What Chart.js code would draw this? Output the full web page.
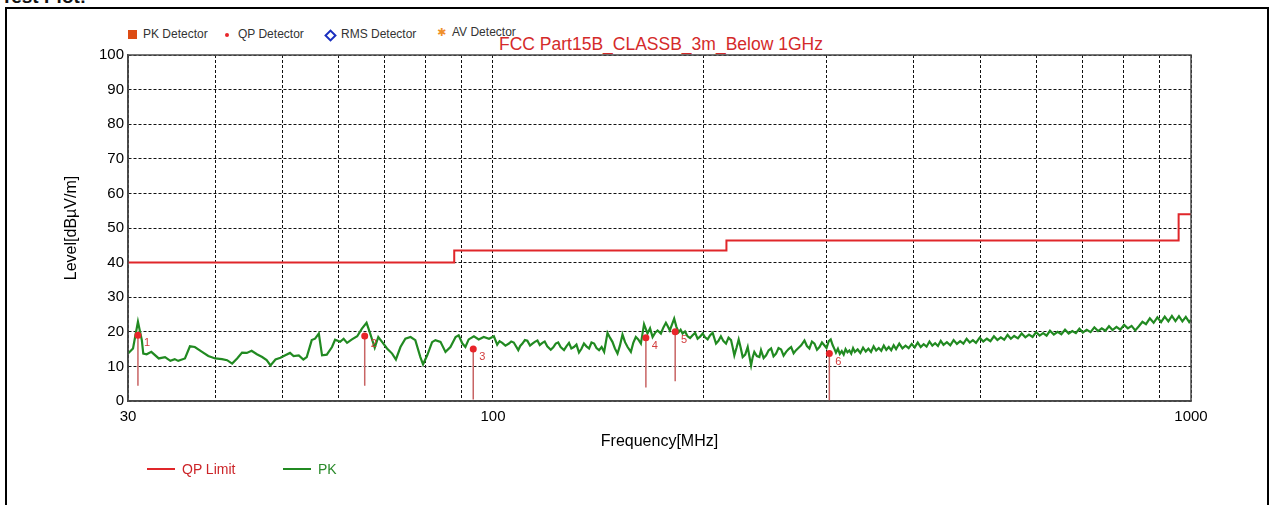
<!DOCTYPE html>
<html>
<head>
<meta charset="utf-8">
<title>FCC Part15B Test Plot</title>
<script src="https://cdn.jsdelivr.net/npm/chart.js@4.4.1/dist/chart.umd.min.js"></script>
<style>
  html, body { margin: 0; padding: 0; background: #fff; }
  body { width: 1271px; height: 505px; position: relative; overflow: hidden; font-family: "Liberation Sans", Arial, sans-serif; }
  #frame { position: absolute; left: 5px; top: 7px; width: 1260px; height: 540px; border: 2px solid #000; }
  #heading { position: absolute; left: 1px; top: -14px; font-size: 19px; font-weight: bold; color: #111; }
  #chartBox { position: absolute; left: 0; top: 0; width: 1271px; height: 505px; }
  .lg { position: absolute; font-size: 12px; line-height: 14px; color: #333; white-space: nowrap; }
  .sym { position: absolute; }
  #plotTitle { position: absolute; left: 499px; top: 35px; font-size: 17.5px; line-height: 19px; color: #d42a2a; white-space: nowrap; }
  .bl { position: absolute; font-size: 14px; line-height: 16px; white-space: nowrap; }
  .bline { position: absolute; height: 2px; width: 28px; }
</style>
</head>
<body>
<div id="heading">Test Plot:</div>
<div id="frame"></div>

<!-- detector legend (top) -->
<div class="sym" style="left:128px; top:30px; width:9px; height:9px; background:#dd4c14;"></div>
<div class="lg" style="left:143px; top:27px;">PK Detector</div>
<div class="sym" style="left:225px; top:33px; width:4px; height:4px; border-radius:50%; background:#e8252a;"></div>
<div class="lg" style="left:238px; top:27px;">QP Detector</div>
<div class="sym" style="left:326px; top:31px; width:5px; height:5px; border:2px solid #1a2fbf; transform:rotate(45deg);"></div>
<div class="lg" style="left:341px; top:27px;">RMS Detector</div>
<div class="sym" style="left:437px; top:26px; font-size:11px; line-height:14px; color:#f0902a; font-family:'DejaVu Sans';">&#10033;</div>
<div class="lg" style="left:452px; top:25px;">AV Detector</div>

<div id="plotTitle">FCC Part15B_CLASSB_3m_Below 1GHz</div>

<div id="chartBox"><canvas id="emiChart" width="1271" height="505"></canvas></div>

<!-- trace legend (bottom) -->
<div class="bline" style="left:147px; top:468px; background:#e0262a;"></div>
<div class="bl" style="left:182px; top:461px; color:#cc2428;">QP Limit</div>
<div class="bline" style="left:283px; top:468px; background:#218a21;"></div>
<div class="bl" style="left:318px; top:461px; color:#2b8a2b;">PK</div>

<script>
// axis ticks
const gridFreqs = [30, 40, 50, 60, 70, 80, 90, 100, 200, 300, 400, 500, 600, 700, 800, 900, 1000];
const xTickLabels = [30, 100, 1000];
const yTicks = [0, 10, 20, 30, 40, 50, 60, 70, 80, 90, 100];

// QP limit (stepped)
const limitFreq = [30, 88, 88, 216, 216, 960, 960, 1000];
const limitLevel = [40, 40, 43.5, 43.5, 46.4, 46.4, 54, 54];

// PK trace: 30 - 100 MHz
const pkFreqLow = [
  30.0, 30.5, 31.0, 31.4, 31.55, 31.9, 32.4, 33.2, 33.9, 34.5, 35.0, 35.4, 36.2, 36.8, 37.4, 38.3, 39.1, 40.0,
  40.9, 41.6, 42.3, 43.0, 43.7, 44.4, 45.1, 45.9, 46.7, 47.4, 48.0, 48.8, 49.6, 50.4, 51.2, 51.8, 52.7, 53.5,
  54.1, 55.0, 55.6, 56.3, 56.9, 57.8, 58.8, 59.4, 60.4, 61.1, 61.8, 62.8, 63.9, 64.9, 65.9, 66.7, 67.7, 68.5,
  69.4, 70.5, 71.7, 72.6, 73.7, 74.9, 76.2, 77.4, 78.7, 79.4, 80.5, 81.8, 82.7, 84.1, 85.5, 86.9, 88.4, 89.3,
  90.4, 91.3, 92.3, 93.9, 95.4, 97.0, 98.7
];
const pkLevelLow = [
  13.7, 15.2, 22.9, 17.6, 13.7, 13.5, 14.2, 12.3, 12.7, 11.6, 12.1, 11.6, 12.3, 15.8, 15.6, 14.2, 13.0, 12.3,
  12.1, 11.8, 10.8, 12.3, 14.0, 13.9, 14.5, 13.5, 12.7, 11.8, 10.3, 12.0, 12.5, 13.2, 13.9, 13.0, 13.2, 12.0,
  12.7, 17.6, 18.0, 19.5, 13.2, 13.4, 15.6, 17.7, 17.1, 18.0, 16.8, 17.8, 18.7, 20.9, 22.6, 19.5, 15.4, 18.5,
  17.0, 15.2, 13.7, 12.0, 15.6, 18.0, 18.5, 17.6, 12.7, 10.6, 13.2, 17.0, 17.6, 17.1, 14.2, 15.6, 18.5, 19.0,
  16.6, 15.6, 17.8, 18.7, 17.8, 18.5, 18.0
];

// 100 - 310 MHz
const pkFreqMid = [
  100.3, 101.4, 102.2, 103.1, 104.2, 105.4, 106.2, 107.1, 108.7, 109.4,
  110.2, 111.1, 112.0, 113.0, 113.9, 114.8, 115.8, 116.7, 117.7, 118.6,
  119.6, 121.0, 122.0, 123.0, 124.0, 125.0, 126.4, 127.4, 128.5, 129.5,
  130.6, 131.7, 132.8, 133.9, 135.0, 136.1, 137.3, 138.4, 139.6, 140.7,
  141.9, 143.1, 144.3, 145.9, 147.1, 148.3, 149.5, 150.8, 152.0, 153.3,
  154.6, 155.9, 157.6, 158.9, 160.2, 161.5, 162.9, 164.6, 166.5, 167.9,
  169.3, 170.7, 172.1, 174.0, 175.4, 176.9, 178.0, 179.2, 181.8, 183.1,
  184.5, 185.7, 186.9, 188.4, 190.0, 191.6, 193.2, 194.8, 196.4, 198.0,
  199.7, 201.3, 203.0, 204.7, 206.4, 207.5, 208.7, 210.4, 212.1, 213.9,
  215.7, 217.5, 219.3, 220.5, 221.7, 223.3, 224.9, 226.4, 227.9, 229.8,
  231.7, 233.0, 234.3, 235.5, 236.8, 238.8, 240.8, 242.1, 244.2, 246.2,
  248.2, 250.3, 252.3, 254.4, 256.5, 258.7, 260.8, 263.0, 265.2, 267.4,
  269.6, 271.8, 274.1, 276.4, 279.4, 281.7, 284.0, 286.4, 288.8, 291.2,
  293.6, 296.0, 298.3, 300.5, 302.7, 304.7, 306.7, 308.5
];
const pkLevelMid = [
  18.7, 16.3, 17.3, 16.8, 16.0, 16.6, 17.2, 16.9, 14.7, 15.9,
  16.6, 17.6, 17.4, 16.0, 16.6, 17.1, 17.5, 16.2, 16.8, 17.2,
  15.8, 14.8, 15.5, 16.6, 16.9, 15.6, 14.7, 15.8, 16.8, 15.2,
  15.6, 16.3, 14.0, 15.1, 16.6, 15.8, 15.2, 16.9, 16.6, 15.3,
  14.7, 15.6, 14.2, 19.7, 18.3, 17.1, 15.2, 13.7, 16.0, 19.2,
  17.0, 15.6, 14.2, 16.9, 18.5, 17.8, 16.6, 22.2, 19.5, 21.0,
  18.5, 19.7, 20.4, 19.5, 21.2, 22.6, 21.6, 20.4, 23.8, 21.5,
  19.9, 20.6, 19.5, 20.1, 18.7, 18.2, 19.0, 19.7, 18.0, 18.6,
  19.5, 18.4, 17.8, 19.0, 19.7, 18.2, 16.6, 17.4, 18.7, 17.3,
  16.6, 18.3, 17.6, 15.5, 13.2, 15.4, 17.8, 15.4, 12.7, 13.4,
  15.6, 12.9, 10.3, 12.6, 14.2, 13.0, 12.7, 14.7, 12.4, 13.2,
  14.6, 15.2, 12.9, 13.7, 15.3, 14.9, 13.1, 14.2, 15.0, 15.6,
  13.8, 14.7, 15.4, 16.1, 17.5, 15.9, 15.2, 17.2, 16.6, 14.8,
  15.6, 16.9, 16.1, 15.3, 17.3, 17.8, 16.1, 15.0
];

// 310 - 1000 MHz
const pkFreqHigh = [
  310, 312, 314, 316, 318, 320, 322, 324, 326, 328,
  330, 333, 336, 339, 342, 345, 348, 351, 354, 357,
  360, 363, 366, 369, 372, 375, 378, 382, 386, 390,
  394, 398, 402, 406, 410, 414, 418, 422, 426, 430,
  434, 438, 442, 447, 452, 457, 462, 467, 472, 477,
  482, 487, 492, 498, 504, 510, 516, 522, 528, 534,
  540, 546, 552, 558, 565, 572, 579, 586, 593, 600,
  607, 614, 621, 628, 636, 644, 652, 660, 668, 676,
  684, 692, 700, 709, 718, 727, 736, 745, 754, 763,
  772, 782, 792, 802, 812, 822, 832, 842, 852, 862,
  873, 884, 895, 906, 917, 928, 939, 950, 961, 972,
  983, 994, 1000
];
const pkLevelHigh = [
  14.0, 15.1, 13.6, 14.4, 13.4, 15.0, 14.1, 14.6, 13.7, 15.3,
  14.2, 14.9, 13.9, 15.4, 14.3, 15.1, 14.2, 15.8, 14.6, 15.3,
  14.5, 16.0, 14.8, 15.6, 14.7, 16.1, 15.0, 16.6, 15.2, 16.0,
  15.3, 16.5, 15.5, 16.9, 15.6, 16.4, 15.7, 17.2, 16.0, 16.7,
  15.9, 17.4, 16.2, 17.0, 16.1, 17.6, 16.5, 17.3, 16.6, 18.0,
  16.9, 17.6, 16.8, 18.3, 17.2, 18.0, 17.3, 18.7, 17.6, 18.4,
  17.7, 19.1, 18.0, 18.8, 18.1, 19.5, 18.4, 19.2, 18.5, 19.9,
  18.9, 19.6, 18.9, 20.3, 19.2, 20.0, 19.3, 20.6, 19.5, 20.2,
  19.6, 20.9, 19.8, 20.6, 19.9, 21.3, 20.2, 21.0, 20.3, 21.6,
  20.5, 21.4, 20.6, 22.0, 21.0, 21.7, 20.4, 21.6, 22.9, 22.2,
  23.9, 22.6, 24.2, 22.8, 24.4, 23.0, 24.6, 23.1, 24.5, 23.0,
  24.3, 22.8, 23.5
];

// QP detector readings
const markerIds = ['1', '2', '3', '4', '5', '6'];
const markerFreq = [31.0, 65.5, 93.7, 165.6, 182.4, 303.3];
const markerLevel = [19.0, 18.8, 15.0, 18.3, 20.0, 13.7];
const markerFloor = [4.4, 4.4, 0.4, 3.9, 5.7, 0];

const FONT = '"Liberation Sans", Arial, sans-serif';

const pkFreq = pkFreqLow.concat(pkFreqMid, pkFreqHigh);
const pkLevel = pkLevelLow.concat(pkLevelMid, pkLevelHigh);

const pkData = pkFreq.map((f, i) => ({ x: f, y: pkLevel[i] }));
const limitData = limitFreq.map((f, i) => ({ x: f, y: limitLevel[i] }));
const dotData = markerFreq.map((f, i) => ({ x: f, y: markerLevel[i] }));
const stemData = [];
markerFreq.forEach((f, i) => {
  stemData.push({ x: f, y: markerLevel[i] }, { x: f, y: markerFloor[i] }, { x: f, y: null });
});

// frame around the plot and marker numbers
const framePlugin = {
  id: 'plotFrame',
  afterDatasetsDraw(chart) {
    const { ctx, chartArea: a } = chart;
    const xs = chart.scales.x;
    const ys = chart.scales.y;
    ctx.save();
    ctx.strokeStyle = '#4a4a4a';
    ctx.lineWidth = 1.5;
    ctx.strokeRect(a.left, a.top, a.right - a.left, a.bottom - a.top);
    ctx.fillStyle = '#d23c3c';
    ctx.font = '11px ' + FONT;
    ctx.textAlign = 'center';
    ctx.textBaseline = 'middle';
    markerIds.forEach((id, i) => {
      ctx.fillText(id, xs.getPixelForValue(markerFreq[i]) + 9, ys.getPixelForValue(markerLevel[i]) + 8);
    });
    ctx.restore();
  }
};

new Chart(document.getElementById('emiChart'), {
  type: 'line',
  data: {
    datasets: [
      { label: 'QP Detector', data: dotData, showLine: false, pointRadius: 3.5,
        pointBackgroundColor: '#e8252a', pointBorderWidth: 0, order: 0 },
      { label: 'PK', data: pkData, borderColor: '#218a21', borderWidth: 2.2, pointRadius: 0,
        tension: 0, order: 1 },
      { label: 'QP stems', data: stemData, borderColor: '#c86464', borderWidth: 1.5, pointRadius: 0,
        spanGaps: false, order: 2 },
      { label: 'QP Limit', data: limitData, borderColor: '#e0262a', borderWidth: 2, pointRadius: 0,
        order: 3 }
    ]
  },
  options: {
    responsive: false,
    animation: false,
    devicePixelRatio: 1,
    layout: { padding: { top: 55, right: 80, left: 0, bottom: 0 } },
    plugins: { legend: { display: false }, tooltip: { enabled: false } },
    scales: {
      x: {
        type: 'logarithmic',
        min: 30,
        max: 1000,
        afterBuildTicks(scale) {
          scale.ticks = gridFreqs.map(v => ({ value: v }));
        },
        afterFit(scale) {
          scale.height = 104;
        },
        ticks: {
          autoSkip: false,
          maxRotation: 0,
          padding: 7,
          color: '#000',
          font: { family: FONT, size: 15 },
          callback: value => (xTickLabels.includes(value) ? String(value) : '')
        },
        grid: { color: '#111', lineWidth: 1, drawTicks: false },
        border: { color: '#4a4a4a', width: 1.5, dash: [3, 2] },
        title: {
          display: true,
          text: 'Frequency[MHz]',
          color: '#000',
          font: { family: FONT, size: 16 },
          padding: { top: 0, bottom: 54 }
        }
      },
      y: {
        min: 0,
        max: 100,
        afterBuildTicks(scale) {
          scale.ticks = yTicks.map(v => ({ value: v }));
        },
        afterFit(scale) {
          scale.width = 128;
        },
        ticks: {
          padding: 4,
          color: '#000',
          font: { family: FONT, size: 15 }
        },
        grid: { color: '#111', lineWidth: 1, drawTicks: false },
        border: { color: '#4a4a4a', width: 1.5, dash: [3, 2] },
        title: {
          display: true,
          text: 'Level[dBµV/m]',
          color: '#000',
          font: { family: FONT, size: 16 },
          padding: { top: 62, bottom: 0 }
        }
      }
    }
  },
  plugins: [framePlugin]
});
</script>
</body>
</html>
